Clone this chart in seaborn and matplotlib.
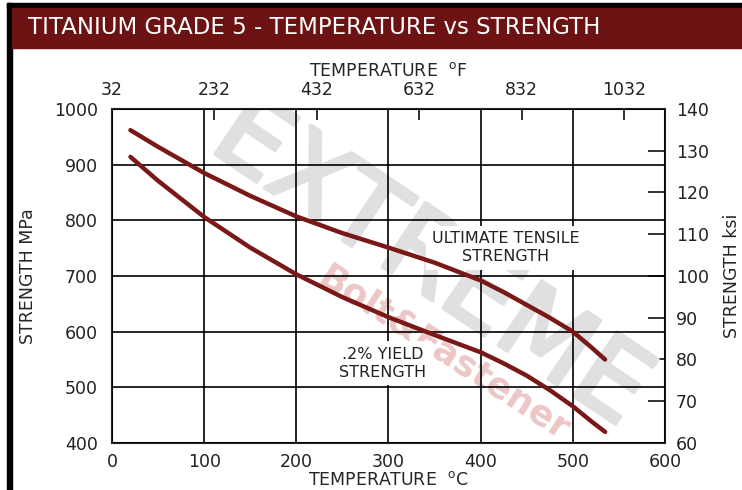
import numpy as np
import matplotlib
matplotlib.use("Agg")
import matplotlib.pyplot as plt
import matplotlib.patheffects as pe
from matplotlib.patches import Rectangle
import seaborn as sns

# values
temp_c = [20, 50, 100, 150, 200, 250, 300, 350, 400, 425, 450, 475, 500, 520, 535]
ultimate_mpa = [962, 932, 885, 844, 807, 777, 751, 724, 692, 671, 648, 625, 600, 572, 550]
yield_mpa = [914, 871, 806, 751, 703, 662, 626, 594, 563, 543, 521, 495, 466, 439, 420]

x_ticks_c = [0, 100, 200, 300, 400, 500, 600]
y_ticks_mpa = [400, 500, 600, 700, 800, 900, 1000]
top_ticks_f = [32, 232, 432, 632, 832, 1032]
right_ticks_ksi = [60, 70, 80, 90, 100, 110, 120, 130, 140]

TITLE = "TITANIUM GRADE 5 - TEMPERATURE vs STRENGTH"
HEADER_RED = "#6d1212"
CURVE_RED = "#7a1818"


def c2f(c):
    return c * 1.8 + 32


def f2c(f):
    return (f - 32) / 1.8


# right scale on the chart runs 60..140 over the same span as 400..1000 MPa
def mpa2ksi(m):
    return 60 + (m - 400) * 80.0 / 600.0


def ksi2mpa(k):
    return 400 + (k - 60) * 600.0 / 80.0


sns.set_theme(style="white")
plt.rcParams["font.family"] = ["DejaVu Sans"]
plt.rcParams["text.color"] = "#222222"

fig = plt.figure(figsize=(7.42, 4.90), dpi=100)
fig.patch.set_facecolor("white")

# frame + header band
fig.patches.append(Rectangle((7 / 742, 0), 4.5 / 742, 1 - 3 / 490, transform=fig.transFigure,
                             color="black", zorder=0))
fig.patches.append(Rectangle((7 / 742, 1 - 8 / 490), 1, 5 / 490, transform=fig.transFigure,
                             color="black", zorder=0))
fig.patches.append(Rectangle((11.5 / 742, 1 - 48 / 490), 1, 40 / 490, transform=fig.transFigure,
                             color=HEADER_RED, zorder=1))
fig.text(28 / 742, 1 - 27 / 490, TITLE, color="white", fontsize=16.5, va="center", ha="left")

ax = fig.add_axes([112 / 742, 1 - 443 / 490, 553 / 742, 334 / 490])

# watermark
ax.text(345, 722, "EXTREME", fontsize=76, color="#e0e0e0", rotation=-34,
        rotation_mode="anchor", ha="center", va="center", zorder=0.2, clip_on=True,
        path_effects=[pe.Stroke(linewidth=3, foreground="#e0e0e0"), pe.Normal()])
ax.text(360, 560, "Bolt&Fastener", fontsize=26, fontweight="bold", color="#edc6c6",
        rotation=-33, rotation_mode="anchor", ha="center", va="center", zorder=0.3,
        clip_on=True)

sns.lineplot(x=temp_c, y=ultimate_mpa, ax=ax, color=CURVE_RED, lw=3.2, zorder=5)
sns.lineplot(x=temp_c, y=yield_mpa, ax=ax, color=CURVE_RED, lw=3.2, zorder=5)

ax.set_xlim(0, 600)
ax.set_ylim(400, 1000)
ax.set_xticks(x_ticks_c)
ax.set_yticks(y_ticks_mpa)
ax.grid(True, color="black", lw=1.2)
ax.set_axisbelow(False)
for sp in ax.spines.values():
    sp.set_color("#222222")
    sp.set_linewidth(1.5)
ax.tick_params(axis="both", length=0, labelsize=12.5, colors="#222222")
ax.tick_params(axis="x", pad=7.5)
ax.tick_params(axis="y", pad=10)
ax.set_xlabel("TEMPERATURE  $^{\\mathrm{o}}$C", fontsize=12.5, labelpad=0)
ax.set_ylabel("STRENGTH MPa", fontsize=12.5, labelpad=12)

top = ax.secondary_xaxis("top", functions=(c2f, f2c))
top.set_xticks(top_ticks_f)
top.tick_params(direction="in", length=8, width=1.3, labelsize=12.5, pad=7, colors="#222222")
top.set_xlabel("TEMPERATURE  $^{\\mathrm{o}}$F", fontsize=12.5, labelpad=4)
top.spines["top"].set_visible(False)

right = ax.secondary_yaxis("right", functions=(mpa2ksi, ksi2mpa))
right.set_yticks(right_ticks_ksi)
right.tick_params(direction="in", length=12, width=1.3, labelsize=12.5, pad=8, colors="#222222")
right.set_ylabel("STRENGTH ksi", fontsize=12.5, labelpad=10)
right.spines["right"].set_visible(False)

box = dict(boxstyle="square,pad=0.35", facecolor="white", edgecolor="none")
ax.text(427, 751, "ULTIMATE TENSILE\nSTRENGTH", fontsize=11.5, ha="center", va="center",
        linespacing=1.25, bbox=box, zorder=4)
ax.text(294, 543, ".2% YIELD\nSTRENGTH", fontsize=11.5, ha="center", va="center",
        linespacing=1.25, bbox=box, zorder=4)

fig.savefig("out.png", dpi=100)
